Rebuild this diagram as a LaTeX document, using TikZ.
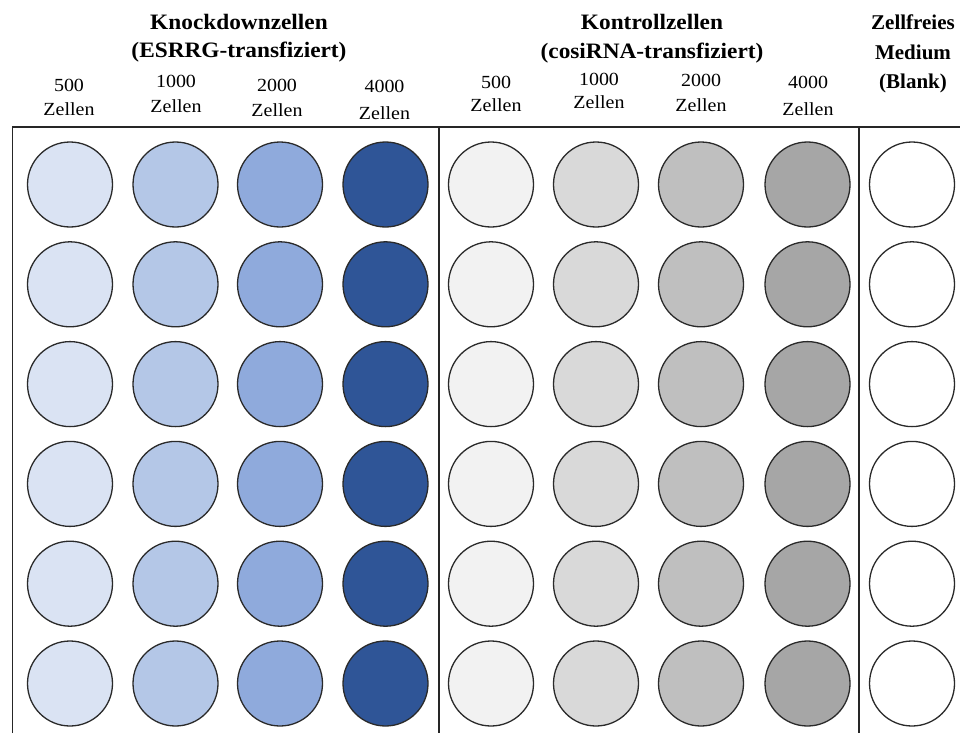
\documentclass[tikz,border=0pt]{standalone}
\usepackage{fontspec}
\setmainfont{Liberation Serif}
\newfontfamily\widefont{Liberation Serif}[FakeStretch=1.06]
\newfontfamily\labfont{Liberation Serif}[FakeStretch=1.08]
\definecolor{b1}{HTML}{DAE3F3}
\definecolor{b2}{HTML}{B4C7E7}
\definecolor{b3}{HTML}{8FAADC}
\definecolor{b4}{HTML}{2F5597}
\definecolor{g1}{HTML}{F2F2F2}
\definecolor{g2}{HTML}{D9D9D9}
\definecolor{g3}{HTML}{BFBFBF}
\definecolor{g4}{HTML}{A6A6A6}
\definecolor{rim}{HTML}{2A2A2A}
\begin{document}
\begin{tikzpicture}[x=1pt,y=-1pt,
  well/.style={circle,draw=rim,line width=1.3pt,minimum size=85pt,inner sep=0pt},
  title/.style={anchor=base,inner sep=0pt,font=\widefont\fontsize{22}{26}\selectfont\bfseries},
  rtitle/.style={anchor=base,inner sep=0pt,font=\fontsize{21}{25}\selectfont\bfseries},
  lab/.style={anchor=base,inner sep=0pt,font=\labfont\fontsize{18.5}{22}\selectfont},
  frame/.style={line width=1.4pt,draw=black!85}]
\useasboundingbox (0,0) rectangle (960,733);
\fill[white] (0,0) rectangle (960,733);
% frame lines
\draw[frame] (12.5,733) -- (12.5,127) -- (960,127);
\draw[frame] (439,127) -- (439,733);
\draw[frame] (859,127) -- (859,733);
% titles
\node[title] (t1a) at (239,30) {Knockdownzellen};
\node[title] (t1b) at (239,58) {(ESRRG-transfiziert)};
\node[title] (t2a) at (652,30) {Kontrollzellen};
\node[title] (t2b) at (652,59) {(cosiRNA-transfiziert)};
\node[rtitle] (t3a) at (913,30) {Zellfreies};
\node[rtitle] (t3b) at (913,60) {Medium};
\node[rtitle] (t3c) at (913,89) {(Blank)};
% column labels
\node[lab] (n1) at (69,92) {500};   \node[lab] (z1) at (69,115) {Zellen};
\node[lab] (n2) at (176,88) {1000}; \node[lab] (z2) at (176,113) {Zellen};
\node[lab] (n3) at (277,92) {2000}; \node[lab] (z3) at (277,116.5) {Zellen};
\node[lab] (n4) at (384.5,93) {4000}; \node[lab] (z4) at (384.5,119) {Zellen};
\node[lab] (n5) at (496,89) {500};  \node[lab] (z5) at (496,112) {Zellen};
\node[lab] (n6) at (599,86) {1000}; \node[lab] (z6) at (599,109) {Zellen};
\node[lab] (n7) at (701,87) {2000}; \node[lab] (z7) at (701,111.5) {Zellen};
\node[lab] (n8) at (808,89) {4000}; \node[lab] (z8) at (808,115) {Zellen};
% wells
\foreach \r in {0,...,5}{
  \pgfmathsetmacro{\yy}{184.5+99.8*\r}
  \foreach \x/\c [count=\k] in {70/b1,175.5/b2,280/b3,385.5/b4,491/g1,596/g2,701/g3,807.5/g4,912/white}{
    \node[well,fill=\c] (w\r-\k) at (\x,\yy) {};
  }
}
\end{tikzpicture}
\end{document}
